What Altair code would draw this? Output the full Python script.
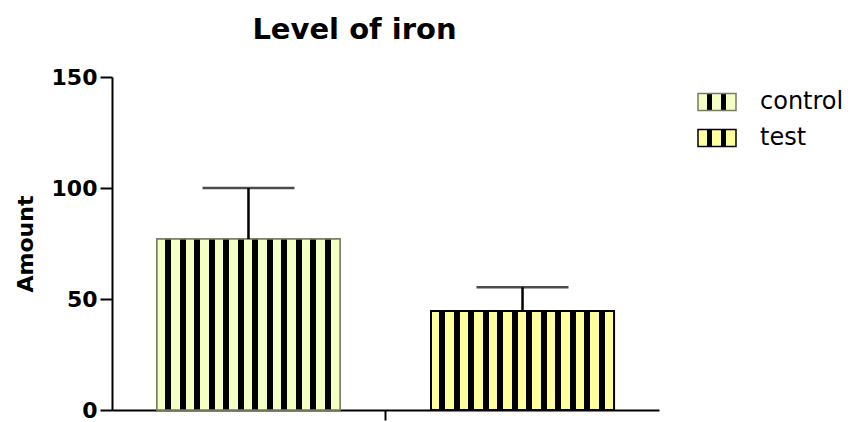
import altair as alt
import pandas as pd

# ---- data ----
groups = ["control", "test"]
means = [77.0, 44.6]
errors = [23.0, 10.7]
category = [" ", " "]

# ---- styles ----
fill_colors = ["#F4FFC4", "#FFFF9E"]
stroke_colors = ["#7A7A66", "#000000"]
stroke_widths = [1.5, 2.0]

df = pd.DataFrame({"cat": category, "group": groups, "mean": means, "err": errors})
df["upper"] = df["mean"] + df["err"]


def stripe_stops(light, n=12, a=0.0464, b=0.0328):
    stops = []
    pos = 0.0
    for _ in range(n):
        stops += [(pos, light), (pos + a, light), (pos + a, "#000000"), (pos + a + b, "#000000")]
        pos += a + b
    stops += [(pos, light), (1.0, light)]
    return stops


def gradient(light):
    return alt.LinearGradient(
        gradient="linear", x1=0, x2=1, y1=0, y2=0,
        stops=[alt.GradientStop(offset=round(min(o, 1.0), 4), color=c) for o, c in stripe_stops(light)],
    )


def legend_gradient_expr(light):
    fr = [(0.23, light), (0.145, "#000000"), (0.22, light), (0.145, "#000000"), (0.26, light)]
    stops = []
    pos = 0.0
    for w, c in fr:
        stops.append("{offset:%.4f,color:'%s'}" % (pos, c))
        pos = min(pos + w, 1.0)
        stops.append("{offset:%.4f,color:'%s'}" % (pos, c))
    return "{gradient:'linear',x1:0,y1:0,x2:1,y2:0,stops:[" + ",".join(stops) + "]}"


legend_props = dict(
    title=None,
    orient="none",
    legendX=585,
    legendY=5,
    labelFont="DejaVu Sans",
    labelFontSize=24,
    labelColor="black",
    symbolType="M-1,-0.45H1V0.45H-1Z",
    symbolSize=1444,
    symbolStrokeWidth=1.5,
    labelOffset=23,
    rowPadding=4,
)

base = alt.Chart(df).encode(
    x=alt.X(
        "cat:N",
        scale=alt.Scale(paddingInner=0, paddingOuter=0),
        axis=alt.Axis(title=None, labels=False, ticks=True, tickSize=10, tickWidth=2,
                      tickColor="black", domainColor="black", domainWidth=2),
    ),
    xOffset=alt.XOffset("group:N", scale=alt.Scale(domain=groups, paddingInner=0.332, paddingOuter=0.164)),
)

yenc = alt.Y(
    "mean:Q",
    scale=alt.Scale(domain=[0, 150], nice=False, zero=True),
    axis=alt.Axis(values=[0, 50, 100, 150], title="Amount", grid=False,
                  labelFont="DejaVu Sans", labelFontSize=22, labelFontWeight="bold",
                  labelColor="black", labelPadding=3, tickSize=12, tickWidth=2,
                  tickColor="black", domainColor="black", domainWidth=2,
                  titleFont="DejaVu Sans", titleFontSize=22, titleFontWeight="bold",
                  titleColor="black", titlePadding=14),
)

legend_bars = base.mark_bar(strokeWidth=1.5).encode(
    y=yenc,
    fill=alt.Fill("group:N",
                  scale=alt.Scale(domain=groups,
                                  range=[alt.ExprRef(expr=legend_gradient_expr(c)) for c in fill_colors]),
                  legend=alt.Legend(**legend_props)),
    stroke=alt.Stroke("group:N", scale=alt.Scale(domain=groups, range=stroke_colors),
                      legend=alt.Legend(**legend_props)),
)

striped_bars = base.mark_bar().encode(
    y="mean:Q",
    fill=alt.condition(alt.datum.group == groups[0], alt.value(gradient(fill_colors[0])),
                       alt.value(gradient(fill_colors[1]))),
    stroke=alt.condition(alt.datum.group == groups[0], alt.value(stroke_colors[0]),
                         alt.value(stroke_colors[1])),
    strokeWidth=alt.condition(alt.datum.group == groups[0], alt.value(stroke_widths[0]),
                              alt.value(stroke_widths[1])),
)

err_rule = base.mark_rule(strokeWidth=2.5, color="black").encode(y="mean:Q", y2="upper:Q")
err_cap = base.mark_tick(size=92, thickness=2.5, color="black").encode(y="upper:Q")

chart = (
    alt.layer(legend_bars, striped_bars, err_rule, err_cap)
    .properties(
        width=547,
        height=333,
        autosize=alt.AutoSizeParams(type="none"),
        padding={"left": 104, "top": 69, "right": 187, "bottom": 12},
        title=alt.TitleParams("Level of iron", font="DejaVu Sans", fontSize=29, fontWeight="bold",
                              color="black", anchor="middle", dx=-31, offset=21),
    )
    .configure_view(stroke=None)
)

chart.save("out.html", embed_options={"renderer": "svg", "actions": False})
